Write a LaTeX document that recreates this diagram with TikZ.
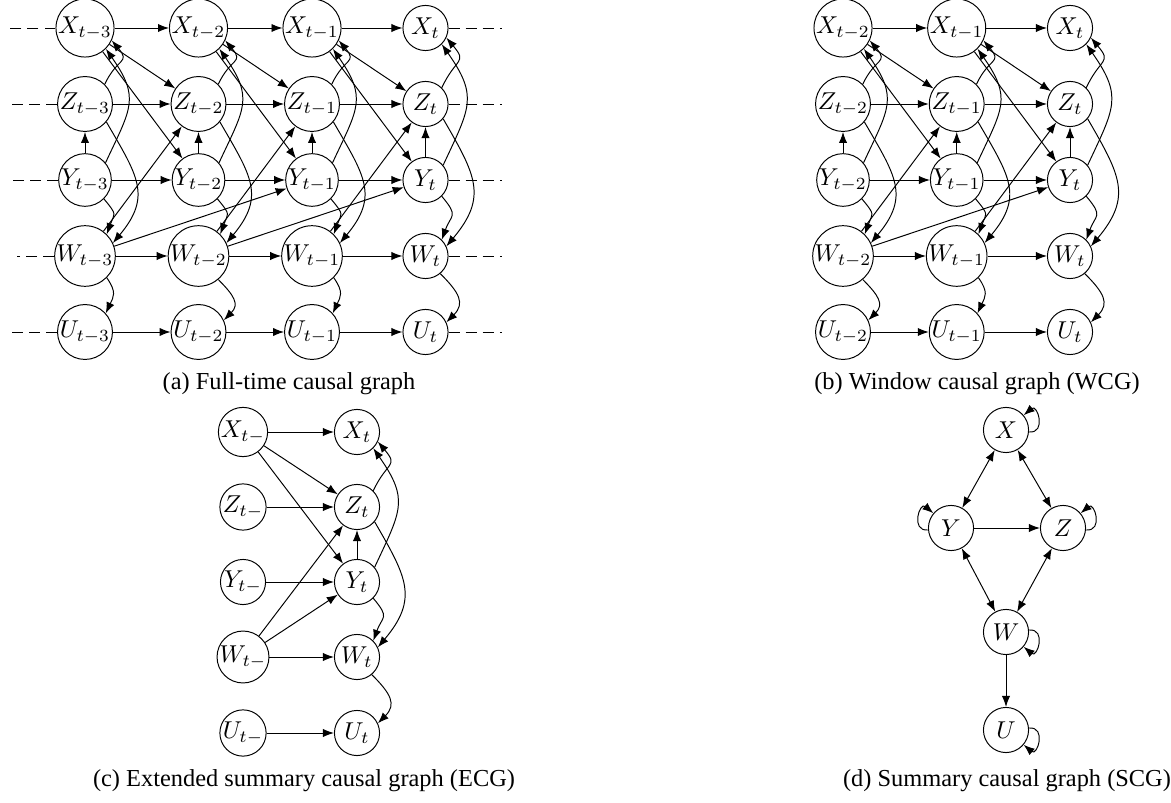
\documentclass[tikz,border=0pt]{standalone}
\usepackage[no-math]{fontspec}
\setmainfont{Liberation Serif}
\usetikzlibrary{arrows.meta}

\tikzset{
  var/.style={circle, draw, inner sep=0pt, minimum size=18.5pt},
  arr/.style={-{Latex[length=4.5pt,width=3.4pt]}},
  darr/.style={{Latex[length=4.5pt,width=3.4pt]}-{Latex[length=4.5pt,width=3.4pt]}},
  dsh/.style={dash pattern=on 4.5pt off 2.5pt},
  captxt/.style={font=\fontsize{10}{12}\selectfont, inner sep=0pt},
}

% arrows inside one time slice: Y->Z, Z->X, Y->X, Y->W, Z->W
\newcommand\slicearrows[2]{%
  \draw[arr] (#1Y#2) -- (#1Z#2);
  \draw[arr] (#1Z#2.45) to[out=65,in=-50,looseness=1.7] (#1X#2.-25);
  \draw[arr] (#1Y#2.40) to[out=65,in=-55,looseness=1.35] (#1X#2.-45);
  \draw[arr] (#1Y#2.-45) to[out=-50,in=70,looseness=1.6] (#1W#2.45);
  \draw[arr] (#1Z#2.-40) to[out=-60,in=50,looseness=1.3] (#1W#2.25);
}
\newcommand\wusmall[2]{\draw[arr] (#1W#2.-45) to[out=-55,in=65,looseness=1.3] (#1U#2.42);}
\newcommand\wularge[2]{\draw[arr] (#1W#2.-50) to[out=-45,in=45,looseness=1.4] (#1U#2.25);}

\begin{document}
\begin{tikzpicture}[x=0.41pt,y=0.41pt]
\useasboundingbox (0,0) rectangle (1171,-803);

% ---------------- (a) full-time graph ----------------
\foreach \c/\x/\lab in {0/85/t-3,1/198.5/t-2,2/312/t-1,3/425.5/t}
  \foreach \vv/\yy in {X/28,Z/104,Y/180,W/256,U/332}
    \node[var] (a\vv\c) at (\x,-\yy) {$\vv_{\lab}$};

\foreach \vv/\yy/\l in {X/28/10,Z/104/10,Y/180/10,W/256/17,U/332/10} {
  \coordinate (aL\vv) at (\l,-\yy);
  \coordinate (aR\vv) at (502,-\yy);
  \draw[dsh] (a\vv0) -- (aL\vv);
  \draw[dsh] (a\vv3) -- (aR\vv);
}
\foreach \vv in {X,Z,Y,W,U}
  \foreach \c/\n in {0/1,1/2,2/3}
    \draw[arr] (a\vv\c) -- (a\vv\n);
\foreach \c/\n in {0/1,1/2,2/3} {
  \draw[arr] (aX\c) -- (aZ\n);
  \draw[arr] (aX\c) -- (aY\n);
  \draw[arr] (aW\c) -- (aZ\n);
}
\draw[arr] (aW0) -- (aY2);
\draw[arr] (aW1) -- (aY3);
\foreach \c in {0,1,2,3} {\slicearrows{a}{\c}}
\wusmall{a}{0} \wularge{a}{1} \wusmall{a}{2} \wularge{a}{3}

% ---------------- (b) window graph ----------------
\foreach \c/\x/\lab in {0/843/t-2,1/956.7/t-1,2/1070/t}
  \foreach \vv/\yy in {X/28,Z/104,Y/180,W/256,U/332}
    \node[var] (b\vv\c) at (\x,-\yy) {$\vv_{\lab}$};
\foreach \vv in {X,Z,Y,W,U}
  \foreach \c/\n in {0/1,1/2}
    \draw[arr] (b\vv\c) -- (b\vv\n);
\foreach \c/\n in {0/1,1/2} {
  \draw[arr] (bX\c) -- (bZ\n);
  \draw[arr] (bX\c) -- (bY\n);
  \draw[arr] (bW\c) -- (bZ\n);
}
\draw[arr] (bW0) -- (bY2);
\foreach \c in {0,1,2} {\slicearrows{b}{\c}}
\wularge{b}{0} \wusmall{b}{1} \wularge{b}{2}

% ---------------- (c) extended summary graph ----------------
\foreach \c/\x/\lab in {0/243/t-,1/357/t}
  \foreach \vv/\yy in {X/432,Z/507,Y/582,W/657,U/733}
    \node[var] (c\vv\c) at (\x,-\yy) {$\vv_{\lab}$};
\foreach \vv in {X,Z,Y,W,U}
  \draw[arr] (c\vv0) -- (c\vv1);
\draw[arr] (cX0) -- (cZ1);
\draw[arr] (cX0) -- (cY1);
\draw[arr] (cW0) -- (cZ1);
\draw[arr] (cW0) -- (cY1);
\slicearrows{c}{1}
\wularge{c}{1}

% ---------------- (d) summary graph ----------------
\node[var] (dX) at (1006,-430) {$X$};
\node[var] (dY) at (951,-528) {$Y$};
\node[var] (dZ) at (1063,-528) {$Z$};
\node[var] (dW) at (1006,-632) {$W$};
\node[var] (dU) at (1006,-730) {$U$};
\draw[darr] (dX) -- (dY);
\draw[darr] (dX) -- (dZ);
\draw[arr] (dY) -- (dZ);
\draw[darr] (dY) -- (dW);
\draw[darr] (dZ) -- (dW);
\draw[arr] (dW) -- (dU);
\draw[arr] (dX.-5) .. controls +(-5:18) and +(40:18) .. (dX.40);
\draw[arr] (dZ.-5) .. controls +(-5:18) and +(40:18) .. (dZ.40);
\draw[arr] (dY.185) .. controls +(185:18) and +(140:18) .. (dY.140);
\draw[arr] (dW.5) .. controls +(5:18) and +(-40:18) .. (dW.-40);
\draw[arr] (dU.5) .. controls +(5:18) and +(-40:18) .. (dU.-40);

% ---------------- captions ----------------
\node[captxt] (capA) at (289,-384) {(a) Full-time causal graph};
\node[captxt] (capB) at (977,-384) {(b) Window causal graph (WCG)};
\node[captxt] (capC) at (304,-781) {(c) Extended summary causal graph (ECG)};
\node[captxt] (capD) at (1007,-781) {(d) Summary causal graph (SCG)};
\end{tikzpicture}
\end{document}
